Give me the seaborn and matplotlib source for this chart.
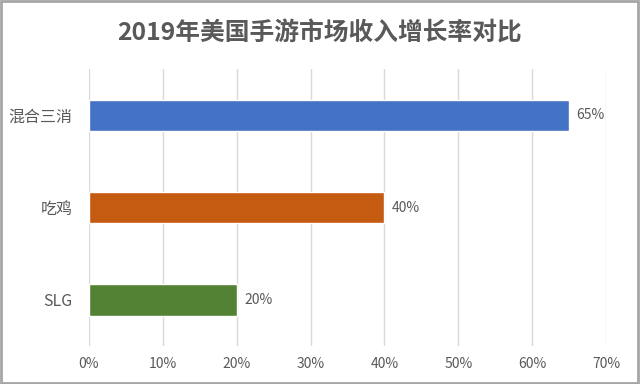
import matplotlib
matplotlib.use("Agg")
import matplotlib.pyplot as plt
import pandas as pd
import seaborn as sns
from matplotlib.patches import Rectangle

categories = ['混合三消', '吃鸡', 'SLG']
growth = [65, 40, 20]
colors = ['#4472C4', '#C55A11', '#548235']
xticks = [0, 10, 20, 30, 40, 50, 60, 70]

sns.set_theme(style='white')
plt.rcParams['font.family'] = ['Noto Sans CJK SC', 'DejaVu Sans']

df = pd.DataFrame({'cat': categories, 'val': growth})

fig = plt.figure(figsize=(6.4, 3.84), dpi=100)
ax = fig.add_axes([0.139, 0.099, 0.808, 0.721])
sns.barplot(data=df, x='val', y='cat', hue='cat', palette=colors, order=categories,
            width=0.34, legend=False, ax=ax, saturation=1)

ax.set_xlim(0, 70)
ax.set_xticks(xticks)
ax.set_xticklabels([f'{t}%' for t in xticks], color='#595959', fontsize=10)
ax.tick_params(axis='y', labelsize=11.5, labelcolor='#595959', length=0, pad=12)
ax.tick_params(axis='x', length=0, pad=8)
ax.set_xlabel('')
ax.set_ylabel('')
ax.grid(axis='x', color='#D9D9D9', linewidth=1)
ax.set_axisbelow(True)
for s in ax.spines.values():
    s.set_visible(False)

for p, v in zip(ax.patches, growth):
    ax.text(p.get_width() + 1, p.get_y() + p.get_height() / 2, f'{v}%',
            va='center', ha='left', fontsize=10, color='#595959')

fig.suptitle('2019年美国手游市场收入增长率对比', y=0.945, fontsize=17.8,
             color='#595959', fontweight='bold')

fig.patches.append(Rectangle((0.002, 0.003), 0.995, 0.994, transform=fig.transFigure,
                             fill=False, edgecolor='#A6A6A6', linewidth=2))

fig.savefig('out.png', dpi=100)
